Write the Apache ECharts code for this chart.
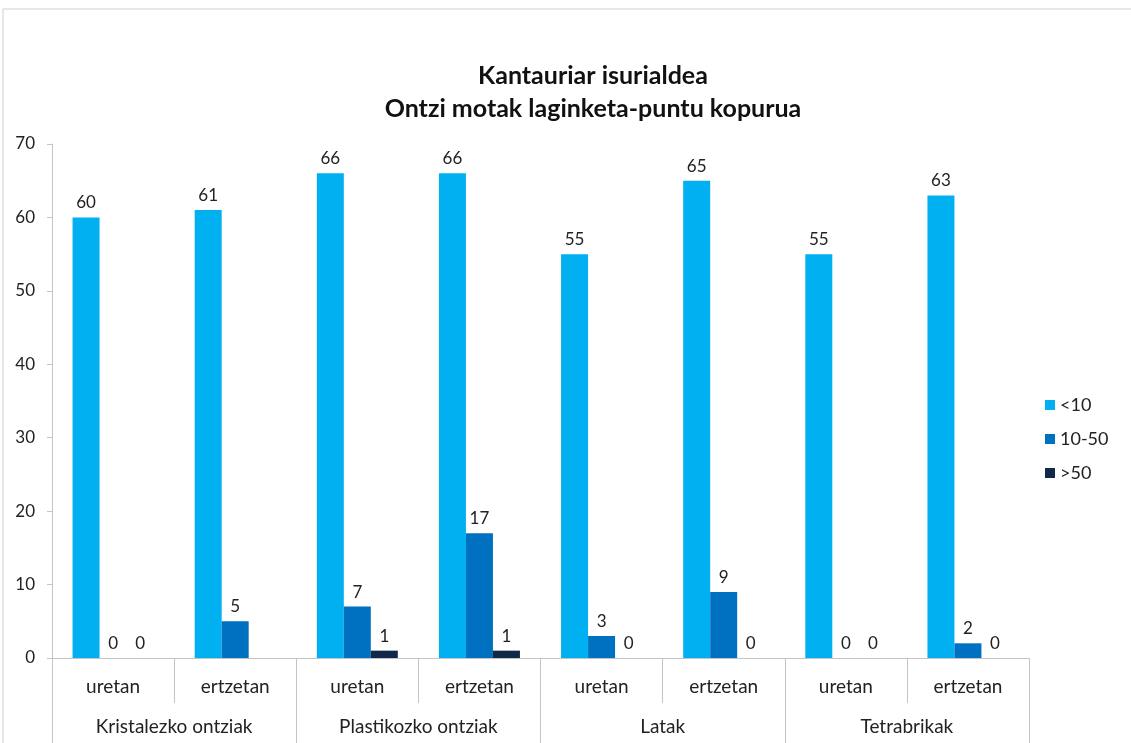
<!DOCTYPE html>
<html>
<head>
<meta charset="utf-8">
<script src="https://cdn.jsdelivr.net/npm/echarts@6/dist/echarts.min.js"></script>
<style>
  html, body { margin: 0; padding: 0; background: #fff; }
  #chart { width: 1131px; height: 743px; }
</style>
</head>
<body>
<div id="chart"></div>
<script>
// sub-categories (first tier) and groups (second tier)
var places = ['uretan', 'ertzetan', 'uretan', 'ertzetan', 'uretan', 'ertzetan', 'uretan', 'ertzetan'];
var groups = ['Kristalezko ontziak', 'Plastikozko ontziak', 'Latak', 'Tetrabrikak'];
var seriesNames = ['<10', '10-50', '>50'];
var lt10 = [60, 61, 66, 66, 55, 65, 55, 63];
var mid = [0, 5, 7, 17, 3, 9, 0, 2];
var gt50 = [0, null, 1, 1, 0, 0, 0, 0];
var colors = ['#00B0F0', '#0070C0', '#10284A'];

var chart = echarts.init(document.getElementById('chart'));
var font = 'Lato, "Open Sans", sans-serif';
var gridColor = '#c4c4c4';

function bar(name, data, color) {
    return {
        name: name,
        type: 'bar',
        xAxisIndex: 0,
        data: data,
        barWidth: 27,
        barGap: '0%',
        itemStyle: { color: color },
        label: {
            show: true,
            position: 'top',
            distance: 6,
            color: '#222',
            fontSize: 17,
            fontFamily: font
        }
    };
}

var option = {
    backgroundColor: '#fff',
    animation: false,
    title: {
        text: 'Kantauriar isurialdea\nOntzi motak laginketa-puntu kopurua',
        left: 588,
        textAlign: 'center',
        top: 54,
        textStyle: {
            fontFamily: font,
            fontSize: 25,
            fontWeight: 'bold',
            color: '#111',
            lineHeight: 33
        }
    },
    legend: {
        orient: 'vertical',
        left: 1040,
        top: 391,
        itemWidth: 10,
        itemHeight: 10,
        itemGap: 16,
        icon: 'rect',
        textStyle: { fontSize: 18, fontFamily: font, color: '#222' },
        data: seriesNames
    },
    grid: { left: 52, right: 102, top: 144, bottom: 85 },
    xAxis: [
        {
            type: 'category',
            data: places,
            position: 'bottom',
            boundaryGap: true,
            axisLine: { show: true, lineStyle: { color: gridColor } },
            axisTick: { show: true, interval: 0, alignWithLabel: false, length: 45, lineStyle: { color: gridColor, width: 1 } },
            axisLabel: { margin: 19, fontSize: 19, fontFamily: font, color: '#222' }
        },
        {
            type: 'category',
            data: groups,
            position: 'bottom',
            boundaryGap: true,
            axisLine: { show: false },
            axisTick: { show: true, interval: 0, alignWithLabel: false, length: 85, lineStyle: { color: gridColor, width: 1 } },
            axisLabel: { margin: 59, fontSize: 19, fontFamily: font, color: '#222' }
        }
    ],
    yAxis: {
        type: 'value',
        min: 0,
        max: 70,
        interval: 10,
        axisLine: { show: true, lineStyle: { color: gridColor } },
        axisTick: { show: true, length: 5, lineStyle: { color: gridColor } },
        splitLine: { show: false },
        axisLabel: { margin: 17, fontSize: 17, fontFamily: font, color: '#222' }
    },
    graphic: [
        { type: 'line', shape: { x1: 3, y1: 9, x2: 1131, y2: 9 }, style: { stroke: '#cfcfcf', lineWidth: 1 } },
        { type: 'line', shape: { x1: 3, y1: 9, x2: 3, y2: 743 }, style: { stroke: '#cfcfcf', lineWidth: 1 } }
    ],
    series: [
        bar(seriesNames[0], lt10, colors[0]),
        bar(seriesNames[1], mid, colors[1]),
        bar(seriesNames[2], gt50, colors[2])
    ]
};
chart.setOption(option);
</script>
</body>
</html>
